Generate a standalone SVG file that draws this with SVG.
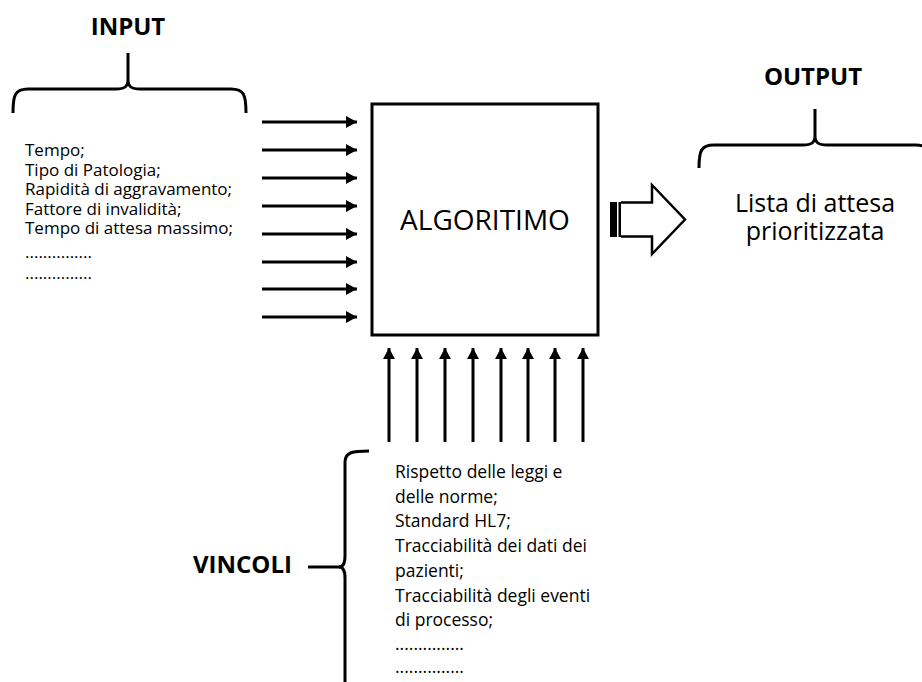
<svg xmlns="http://www.w3.org/2000/svg" width="922" height="682" viewBox="0 0 922 682">
<style>
.h{font-family:"Open Sans","Noto Sans",sans-serif;font-weight:bold;font-size:24px;fill:#000}
.t{font-family:"Open Sans","Noto Sans",sans-serif;fill:#000}
.br{fill:none;stroke:#000;stroke-width:3;stroke-linecap:butt}
.ar{fill:none;stroke:#000;stroke-width:3}
</style>
<defs>
<marker id="ah" markerWidth="14" markerHeight="14" viewBox="0 0 14 14" refX="12" refY="7" orient="auto" markerUnits="userSpaceOnUse">
<path d="M1,1 L12,7 L1,13 Z" fill="#000"/>
</marker>
</defs>
<rect width="922" height="682" fill="#fff"/>

<g id="input">
<text class="h" x="128" y="35" text-anchor="middle">INPUT</text>
<path class="br" d="M13,113 C13,95 15,89 28,89 H116 C124,89 128,87 128,80 V53 M128,80 C128,87 132,89 140,89 H231 C244,89 246,95 246,113"/>
<g class="t" font-size="17">
<text x="25" y="156">Tempo;</text>
<text x="25" y="176">Tipo di Patologia;</text>
<text x="25" y="195">Rapidità di aggravamento;</text>
<text x="25" y="215">Fattore di invalidità;</text>
<text x="25" y="234">Tempo di attesa massimo;</text>
<text x="25" y="258">...............</text>
<text x="25" y="279">...............</text>
</g>
</g>

<g id="algoritimo">
<rect x="372" y="104" width="226" height="231" fill="#fff" stroke="#000" stroke-width="3"/>
<text class="t" x="485" y="230" font-size="28" text-anchor="middle">ALGORITIMO</text>
</g>

<g id="output">
<text class="h" x="813" y="85" text-anchor="middle">OUTPUT</text>
<path class="br" d="M699,168 C699,151 701,145 714,145 H803 C811,145 815,143 815,136 V109 M815,136 C815,143 819,145 827,145 H916 C929,145 931,151 931,168"/>
<text class="t" x="815" y="212" font-size="25" text-anchor="middle">Lista di attesa</text>
<text class="t" x="815" y="240" font-size="25" text-anchor="middle">prioritizzata</text>
</g>

<g id="vincoli">
<text class="h" x="193" y="573">VINCOLI</text>
<path class="br" d="M369,451 C353,451 345,452 345,462 V556 C345,563 343,567 339,567 C343,567 345,571 345,578 V690"/>
<path class="br" d="M308,567 H340"/>
<g class="t" font-size="17.5">
<text x="395" y="478">Rispetto delle leggi e</text>
<text x="395" y="503">delle norme;</text>
<text x="395" y="527">Standard HL7;</text>
<text x="395" y="552">Tracciabilità dei dati dei</text>
<text x="395" y="577">pazienti;</text>
<text x="395" y="602">Tracciabilità degli eventi</text>
<text x="395" y="626">di processo;</text>
<text x="395" y="650">...............</text>
<text x="395" y="673">...............</text>
</g>
</g>

<g id="connectors">
<g class="ar" marker-end="url(#ah)">
<path d="M262,122 H357"/>
<path d="M262,150 H357"/>
<path d="M262,178 H357"/>
<path d="M262,206 H357"/>
<path d="M262,234 H357"/>
<path d="M262,262 H357"/>
<path d="M262,289 H357"/>
<path d="M262,317 H357"/>
<path d="M389,442 V348"/>
<path d="M417,442 V348"/>
<path d="M445,442 V348"/>
<path d="M473,442 V348"/>
<path d="M501,442 V348"/>
<path d="M528,442 V348"/>
<path d="M555,442 V348"/>
<path d="M583,442 V348"/>
</g>
<g id="fat-arrow">
<rect x="610" y="202" width="7" height="35" fill="#000"/>
<rect x="618.5" y="202" width="3" height="35" fill="#000"/>
<path d="M621,202.5 H652 V185 L685,219.5 L652,254 V236.5 H621" fill="#fff" stroke="#000" stroke-width="2.5" stroke-linejoin="miter"/>
</g>
</g>
</svg>
